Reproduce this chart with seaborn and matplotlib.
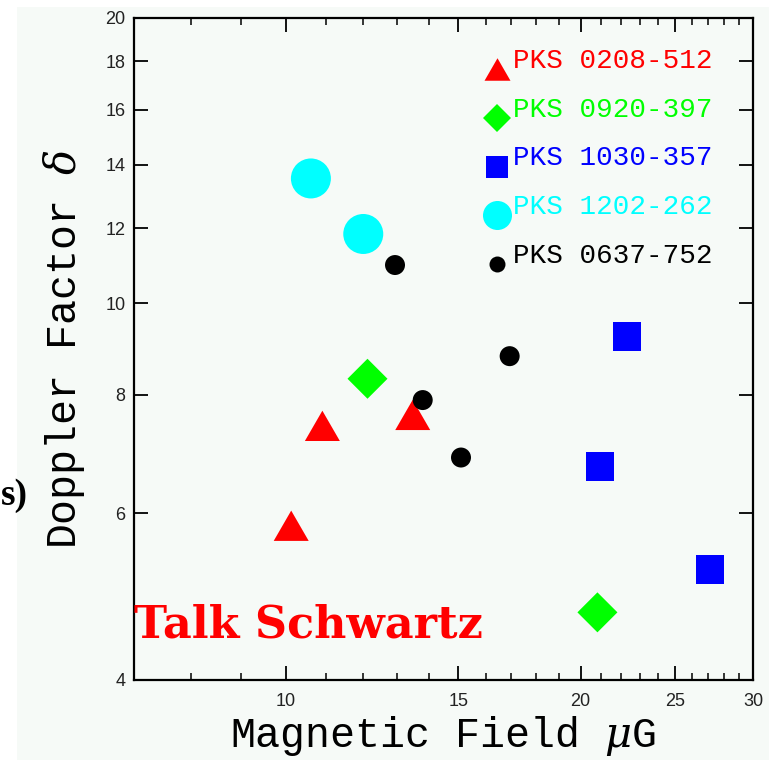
import numpy as np
import pandas as pd
import matplotlib
matplotlib.use("Agg")
import matplotlib.pyplot as plt
import seaborn as sns
from matplotlib.lines import Line2D
from matplotlib.patches import Rectangle
from matplotlib.ticker import FixedLocator, FixedFormatter, NullFormatter

# ---------------- data ----------------
sources = ["PKS 0208-512", "PKS 0920-397", "PKS 1030-357", "PKS 1202-262", "PKS 0637-752"]
colors = ["#ff0000", "#00ff00", "#0000ff", "#00ffff", "#000000"]

b_0208 = [10.13, 10.90, 13.48]
d_0208 = [5.82, 7.42, 7.62]
b_0920 = [12.12, 20.81]
d_0920 = [8.32, 4.715]
b_1030 = [22.32, 20.93, 27.10]
d_1030 = [9.22, 6.72, 5.23]
b_1202 = [10.61, 12.00]
d_1202 = [13.54, 11.83]
b_0637 = [12.93, 13.80, 15.10, 16.93]
d_0637 = [10.97, 7.90, 6.87, 8.79]

x_major = [10, 15, 20, 25, 30]
x_minor = [8, 9, 11, 12, 13, 14, 16, 17, 18, 19, 21, 22, 23, 24, 26, 27, 28, 29]
y_major = [4, 6, 8, 10, 12, 14, 16, 18, 20]

x_label = "Magnetic Field $\\mu$G"
y_label = "Doppler Factor $\\delta$"
note = "Talk Schwartz"
side_text = "s)"

# ---------------- styling ----------------
bg = "#f6faf7"
plt.rcParams["mathtext.fontset"] = "dejavuserif"
mono = ["Liberation Mono", "DejaVu Sans Mono"]
tri = [(-1.0, -0.866), (1.0, -0.866), (0.0, 0.866)]
markers = [tri, "D", "s", "o", "o"]
data_sizes = [635, 415, 420, 829, 207]      # points^2
legend_ms = [18.7, 14.6, 15.2, 20.9, 11.5]  # points

frames = []
for name, bx, dy in zip(sources,
                        [b_0208, b_0920, b_1030, b_1202, b_0637],
                        [d_0208, d_0920, d_1030, d_1202, d_0637]):
    frames.append(pd.DataFrame({"B": bx, "delta": dy, "source": name}))
df = pd.concat(frames, ignore_index=True)

fig = plt.figure(figsize=(7.69, 7.60), dpi=100, facecolor="white")
fig.patches.append(Rectangle((17 / 769, 0), 1, (760 - 7) / 760,
                             transform=fig.transFigure, facecolor=bg,
                             edgecolor="none", zorder=-10))
ax = fig.add_axes([134 / 769, 80 / 760, (753 - 134) / 769, (680 - 18) / 760])
ax.set_facecolor(bg)

sns.scatterplot(data=df, x="B", y="delta", hue="source", style="source",
                size="source", hue_order=sources, style_order=sources,
                size_order=sources,
                palette=dict(zip(sources, colors)),
                markers=dict(zip(sources, markers)),
                sizes=dict(zip(sources, data_sizes)),
                linewidth=0, edgecolor="none", legend=False, ax=ax, zorder=3)

ax.set_xscale("log")
ax.set_yscale("log")
ax.set_xlim(7, 30)
ax.set_ylim(4, 20)

ax.xaxis.set_major_locator(FixedLocator(x_major))
ax.xaxis.set_major_formatter(FixedFormatter([str(v) for v in x_major]))
ax.xaxis.set_minor_locator(FixedLocator(x_minor))
ax.xaxis.set_minor_formatter(NullFormatter())
ax.yaxis.set_major_locator(FixedLocator(y_major))
ax.yaxis.set_major_formatter(FixedFormatter([str(v) for v in y_major]))
ax.yaxis.set_minor_locator(FixedLocator([]))
ax.yaxis.set_minor_formatter(NullFormatter())

ax.tick_params(which="both", direction="in", top=True, right=True, color="black")
ax.tick_params(which="major", length=10, width=1.3)
ax.tick_params(which="minor", length=5, width=1.1)
ax.tick_params(axis="x", which="major", pad=9, labelsize=13, labelcolor="#222222")
ax.tick_params(axis="y", which="major", pad=6, labelsize=13, labelcolor="#222222")
for lab in ax.get_xticklabels() + ax.get_yticklabels():
    lab.set_family(["Liberation Sans", "DejaVu Sans"])

for sp in ax.spines.values():
    sp.set_linewidth(1.6)
    sp.set_color("black")

ax.set_xlabel(x_label, family=mono, fontsize=30, labelpad=3)
ax.set_ylabel(y_label, family=mono, fontsize=30, labelpad=13)

handles = [Line2D([], [], ls="none", marker=m, ms=s, color=c, markeredgewidth=0)
           for m, s, c in zip(markers, legend_ms, colors)]
leg = ax.legend(handles, sources, loc="upper left",
                bbox_to_anchor=((483 - 134) / 619, (680 - 59) / 662),
                frameon=False, prop={"family": mono, "size": 19.9},
                labelcolor=colors, handlelength=1.0, handletextpad=0.1,
                labelspacing=0.82, borderpad=0, borderaxespad=0)
for t in leg.get_texts():
    t.set_y(11)

ax.text(0.0, (680 - 637) / 662, note, transform=ax.transAxes, color="#ff0000",
        fontsize=32, fontweight="bold", family="DejaVu Serif",
        ha="left", va="baseline", zorder=6)

fig.text(1 / 769, (760 - 505) / 760, side_text, ha="left", va="baseline",
         fontsize=27, fontweight="bold", family="Liberation Serif", color="black")

fig.savefig("out.png", dpi=100, facecolor=fig.get_facecolor())
